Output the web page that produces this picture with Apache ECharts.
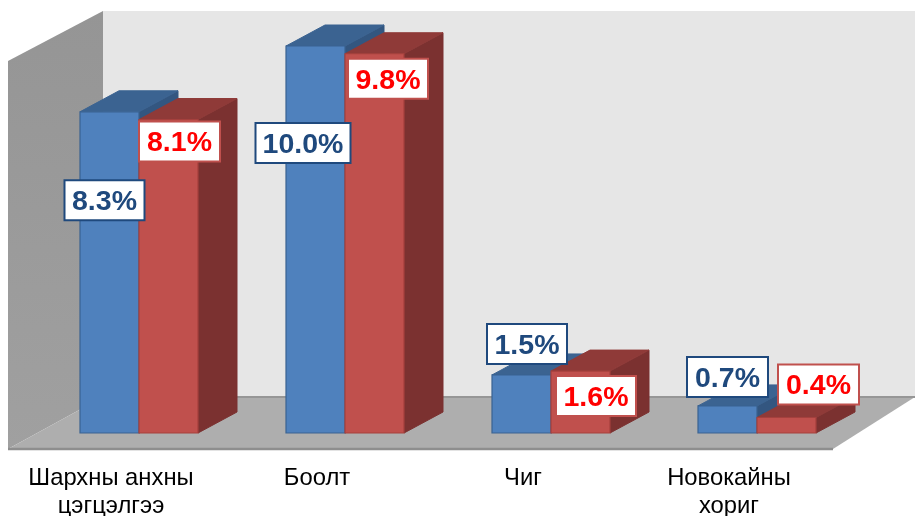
<!DOCTYPE html>
<html><head><meta charset="utf-8">
<style>html,body{margin:0;padding:0;background:#fff}#c{width:915px;height:516px}</style>
<script src="https://cdn.jsdelivr.net/npm/echarts@6/dist/echarts.min.js"></script>
</head><body><div id="c"></div>
<script>
const categories = ['Шархны анхны\nцэгцэлгээ', 'Боолт', 'Чиг', 'Новокайны\nхориг'];
const seriesA = [8.3, 10.0, 1.5, 0.7];
const seriesB = [8.1, 9.8, 1.6, 0.4];
const labelA = ['8.3%', '10.0%', '1.5%', '0.7%'];
const labelB = ['8.1%', '9.8%', '1.6%', '0.4%'];

// layout (not data)
const BAR_W = 59, DX = 39, DY = -21, SHIFT = 28;
const nudgeA = [[-5, 88.5], [-12.5, 97], [5.5, -31], [0, -29]];
const nudgeB = [[11, 22], [13.5, 25], [15.5, 25], [32, -33]];
const sizeA = [80, 95, 80, 81], sizeB = [81, 80, 80, 81];

const BLUE = {front:'#4F81BD', top:'#3B6391', side:'#335680', line:'#3A6391'};
const RED  = {front:'#C0504D', top:'#8F3A38', side:'#7B3130', line:'#A5403D'};

function barRender(pal, side) {
  return function (params, api) {
    const c = api.coord([api.value(0), api.value(1)]);
    const b = api.coord([api.value(0), 0]);
    const x0 = c[0] + SHIFT + (side < 0 ? -BAR_W : 0), x1 = x0 + BAR_W, yt = c[1], yb = b[1];
    const st = {lineWidth: 1.2, stroke: pal.line};
    return {type: 'group', children: [
      {type:'polygon', shape:{points:[[x1,yt],[x1+DX,yt+DY],[x1+DX,yb+DY],[x1,yb]]}, style:{fill:pal.side, stroke:pal.side, lineWidth:1}},
      {type:'polygon', shape:{points:[[x0,yt],[x0+DX,yt+DY],[x1+DX,yt+DY],[x1,yt]]}, style:{fill:pal.top, stroke:pal.top, lineWidth:1}},
      {type:'rect', shape:{x:x0,y:yt,width:BAR_W,height:yb-yt}, style:{fill:pal.front, stroke:st.stroke, lineWidth:st.lineWidth}}
    ]};
  };
}
function labelRender(texts, nudges, sizes, side, color, border) {
  return function (params, api) {
    const i = params.dataIndex;
    const c = api.coord([api.value(0), api.value(1)]);
    const cx = c[0] + SHIFT + side * BAR_W / 2 + nudges[i][0], cy = c[1] + nudges[i][1];
    const w = sizes[i], h = 40;
    return {type:'group', children:[
      {type:'rect', shape:{x:cx-w/2,y:cy-h/2,width:w,height:h}, style:{fill:'#fff', stroke:border, lineWidth:2}},
      {type:'text', style:{x:cx,y:cy+2,text:texts[i],align:'center',verticalAlign:'middle',fill:color,
        font:'bold 28.5px "Liberation Sans", Arial, sans-serif'}}
    ]};
  };
}
const toData = arr => arr.map((v, i) => [i, v]);

const chart = echarts.init(document.getElementById('c'), null, {renderer:'canvas'});
chart.setOption({
  animation:false,
  backgroundColor:'#fff',
  grid:{left:8, width:824, top:7.3, height:425.7, outerBoundsMode:'none', containLabel:false},
  xAxis:{type:'category', data:categories, axisLine:{show:false}, axisTick:{show:false}, splitLine:{show:false},
    axisLabel:{interval:0, margin:31, color:'#000', fontSize:23.8, lineHeight:28, fontFamily:'"Liberation Sans", Arial, sans-serif'}},
  yAxis:{type:'value', min:0, max:11, show:false},
  graphic:{elements:[
    {type:'polygon', z:-10, silent:true, shape:{points:[[103,11],[915,11],[915,397],[103,397]]}, style:{fill:'#E6E6E6'}},
    {type:'polygon', z:-9, silent:true, shape:{points:[[8,61],[103,11],[103,397],[8,449]]},
      style:{fill:new echarts.graphic.LinearGradient(0,0,0,1,[{offset:0,color:'#959595'},{offset:1,color:'#A0A0A0'}])}},
    {type:'polygon', z:-8, silent:true, shape:{points:[[8,449],[103,397],[915,397],[833,449]]}, style:{fill:'#AEAEAE'}},
    {type:'polyline', z:-7, silent:true, shape:{points:[[103,397],[915,397]]}, style:{stroke:'#969696', lineWidth:2, fill:null}},
    {type:'polyline', z:-7, silent:true, shape:{points:[[8,449],[833,449]]}, style:{stroke:'#8E8E8E', lineWidth:2.5, fill:null}}
  ]},
  series:[
    {type:'custom', name:'A', z:2, clip:false, data:toData(seriesA), renderItem:barRender(BLUE,-1), encode:{x:0,y:1}},
    {type:'custom', name:'B', z:3, clip:false, data:toData(seriesB), renderItem:barRender(RED,1), encode:{x:0,y:1}},
    {type:'custom', name:'AL', z:4, clip:false, data:toData(seriesA), renderItem:labelRender(labelA,nudgeA,sizeA,-1,'#1F497D','#1F497D'), encode:{x:0,y:1}},
    {type:'custom', name:'BL', z:5, clip:false, data:toData(seriesB), renderItem:labelRender(labelB,nudgeB,sizeB,1,'#FF0000','#C0504D'), encode:{x:0,y:1}}
  ]
});
</script></body></html>
